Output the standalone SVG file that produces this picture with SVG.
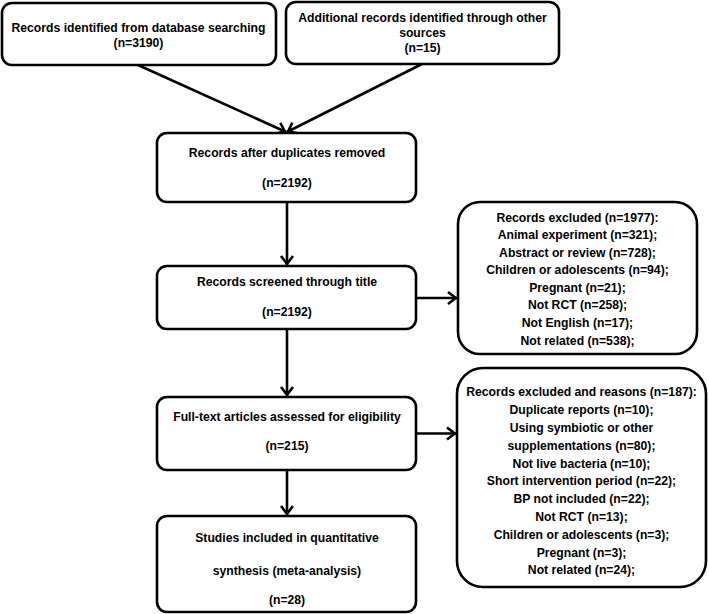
<svg xmlns="http://www.w3.org/2000/svg" width="709" height="614" viewBox="0 0 709 614">
<style>
.box{fill:#fff;stroke:#000;stroke-width:2.6}
text{font-family:"Liberation Sans",Arial,sans-serif;font-weight:bold;font-size:12.2px;fill:#000;text-anchor:middle}
.ln{stroke:#000;stroke-width:2.6;fill:none}
</style>
<defs>
<marker id="arr" viewBox="-12 -8 14 16" refX="0" refY="0" markerWidth="14" markerHeight="16" markerUnits="userSpaceOnUse" orient="auto">
<path d="M-9,-6 L-1.2,0 L-9,6" fill="none" stroke="#000" stroke-width="2.6" stroke-linejoin="miter"/>
</marker>
</defs>
<rect width="709" height="614" fill="#fff"/>
<g id="connectors">
<line class="ln" x1="138" y1="65" x2="286" y2="132" marker-end="url(#arr)"/>
<line class="ln" x1="422" y1="64" x2="287" y2="132" marker-end="url(#arr)"/>
<line class="ln" x1="287" y1="202" x2="287" y2="265" marker-end="url(#arr)"/>
<line class="ln" x1="287" y1="329" x2="287" y2="396" marker-end="url(#arr)"/>
<line class="ln" x1="287" y1="470" x2="287" y2="515" marker-end="url(#arr)"/>
<line class="ln" x1="416" y1="298" x2="457" y2="298" marker-end="url(#arr)"/>
<line class="ln" x1="416" y1="433.5" x2="456" y2="433.5" marker-end="url(#arr)"/>
</g>
<g id="n1">
<rect class="box" x="2" y="3" width="274" height="62" rx="10"/>
<text x="138.5" y="32">Records identified from database searching</text>
<text x="138.5" y="47">(n=3190)</text>
</g>
<g id="n2">
<rect class="box" x="286" y="2" width="273" height="62" rx="10"/>
<text x="422.5" y="21.5">Additional records identified through other</text>
<text x="422.5" y="36.5">sources</text>
<text x="422.5" y="52">(n=15)</text>
</g>
<g id="n3">
<rect class="box" x="157" y="133" width="259" height="69" rx="10"/>
<text x="287" y="156.5">Records after duplicates removed</text>
<text x="287" y="186.5">(n=2192)</text>
</g>
<g id="n4">
<rect class="box" x="157" y="266" width="259" height="63" rx="10"/>
<text x="287" y="286">Records screened through title</text>
<text x="287" y="316">(n=2192)</text>
</g>
<g id="n5">
<rect class="box" x="157" y="397" width="259" height="73" rx="10"/>
<text x="287" y="420.5">Full-text articles assessed for eligibility</text>
<text x="287" y="449.5">(n=215)</text>
</g>
<g id="n6">
<rect class="box" x="157" y="516" width="259" height="96" rx="10"/>
<text x="287" y="542">Studies included in quantitative</text>
<text x="287" y="574.5">synthesis (meta-analysis)</text>
<text x="287" y="603.5">(n=28)</text>
</g>
<g id="n7">
<rect class="box" x="458" y="202" width="239" height="152" rx="22"/>
<text x="577.5" y="221.5">Records excluded (n=1977):</text>
<text x="577.5" y="239">Animal experiment (n=321);</text>
<text x="577.5" y="256.6">Abstract or review (n=728);</text>
<text x="577.5" y="274.2">Children or adolescents (n=94);</text>
<text x="577.5" y="291.8">Pregnant (n=21);</text>
<text x="577.5" y="309.4">Not RCT (n=258);</text>
<text x="577.5" y="327">Not English (n=17);</text>
<text x="577.5" y="344.6">Not related (n=538);</text>
</g>
<g id="n8">
<rect class="box" x="457" y="368" width="249" height="219" rx="26"/>
<text x="581.5" y="396.3">Records excluded and reasons (n=187):</text>
<text x="581.5" y="414.1">Duplicate reports (n=10);</text>
<text x="581.5" y="431.9">Using symbiotic or other</text>
<text x="581.5" y="449.7">supplementations (n=80);</text>
<text x="581.5" y="467.5">Not live bacteria (n=10);</text>
<text x="581.5" y="485.3">Short intervention period (n=22);</text>
<text x="581.5" y="503.1">BP not included (n=22);</text>
<text x="581.5" y="520.9">Not RCT (n=13);</text>
<text x="581.5" y="538.7">Children or adolescents (n=3);</text>
<text x="581.5" y="556.5">Pregnant (n=3);</text>
<text x="581.5" y="574.3">Not related (n=24);</text>
</g>
</svg>
